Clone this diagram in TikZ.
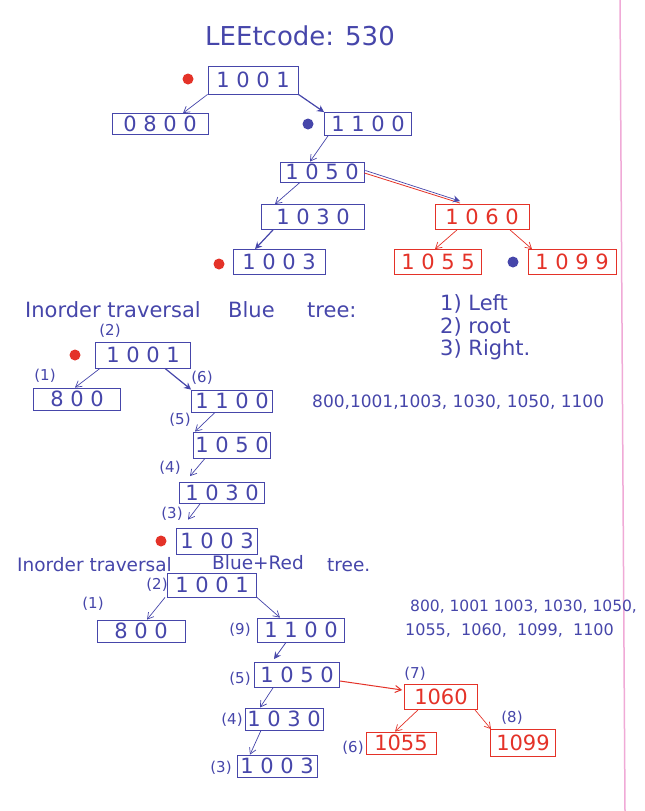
\documentclass[tikz,border=0pt]{standalone}
\usepackage{fontspec}
\setmainfont{DejaVu Sans}
\usetikzlibrary{arrows.meta}
\definecolor{ink}{RGB}{70,70,170}
\definecolor{rink}{RGB}{228,50,40}
\definecolor{pinkline}{RGB}{240,170,215}
\begin{document}
\begin{tikzpicture}[x=1pt,y=-1pt,
 bx/.style 2 args={draw=ink, text=ink, line width=0.8pt, minimum width=#1, minimum height=#2, inner sep=0pt, font=\fontsize{21}{21}\selectfont},
 rbx/.style 2 args={bx={#1}{#2}, draw=rink, text=rink},
 lbl/.style={text=ink, font=\fontsize{15}{15}\selectfont, inner sep=0pt},
 arr/.style={draw=ink, line width=0.7pt, -{Straight Barb[length=6pt,width=7pt]}},
 tarr/.style={arr, line width=1.2pt, -{Stealth[length=7pt,width=7pt]}},
 rarr/.style={arr, draw=rink},
 rdot/.style={circle, fill=rink, inner sep=0pt, minimum size=11pt},
 bdot/.style={circle, fill=ink, inner sep=0pt, minimum size=11pt},
 txt/.style={text=ink, inner sep=0pt, anchor=west}]
\useasboundingbox (0,0) rectangle (645,811);
\fill[white] (0,0) rectangle (645,811);
\draw[pinkline, line width=1.5pt] (620,0) -- (625,811);

% title
\node[txt, anchor=center, font=\fontsize{26}{26}\selectfont] (title) at (300,36) {LEEtcode: 530};

% tree 1
\node[bx={90pt}{28pt}] (t1a) at (253,80) {1 0 0 1};
\node[bx={96pt}{21pt}] (t1b) at (160,124) {0 8 0 0};
\node[bx={87pt}{23pt}] (t1c) at (368,124) {1 1 0 0};
\node[bx={84pt}{20pt}] (t1d) at (322,172) {1 0 5 0};
\node[bx={103pt}{25pt}] (t1e) at (313,217) {1 0 3 0};
\node[rbx={94pt}{25pt}] (t1f) at (482,217) {1 0 6 0};
\node[bx={92pt}{25pt}] (t1g) at (279,262) {1 0 0 3};
\node[rbx={87pt}{25pt}] (t1h) at (438,262) {1 0 5 5};
\node[rbx={88pt}{25pt}] (t1i) at (572,262) {1 0 9 9};
\node[rdot] (d1) at (188,79) {};
\node[bdot] (d2) at (308,124) {};
\node[rdot] (d3) at (219,264) {};
\node[bdot] (d4) at (513,262) {};

\draw[arr] (t1a.south west) -- ([xshift=23pt]t1b.north);
\draw[tarr] (t1a.south east) -- (t1c.north west);
\draw[arr] ([xshift=-40pt]t1c.south) -- ([xshift=-12pt]t1d.north);
\draw[arr] ([xshift=-22pt]t1d.south) -- ([xshift=-38pt]t1e.north);
\draw[rink, line width=0.8pt] ([yshift=-1pt]t1d.east) -- ([xshift=-22pt,yshift=1pt]t1f.north);
\draw[tarr, line width=0.7pt] ([xshift=1pt,yshift=1.5pt]t1d.east) -- ([xshift=-22pt,yshift=3pt]t1f.north);
\draw[tarr] ([xshift=-40pt]t1e.south) -- ([xshift=-24pt]t1g.north);
\draw[rarr] ([xshift=-25pt]t1f.south) -- ([xshift=-3pt]t1h.north);
\draw[rarr] ([xshift=28pt]t1f.south) -- ([xshift=-40pt]t1i.north);

% text block 1
\node[txt, font=\fontsize{21}{21}\selectfont] (h1) at (25,310) {Inorder traversal};
\node[txt, font=\fontsize{21}{21}\selectfont] (h1b) at (228,310) {Blue};
\node[txt, font=\fontsize{21}{21}\selectfont] (h1c) at (307,310) {tree:};
\node[txt, font=\fontsize{21}{21}\selectfont] (s1) at (440,304) {1) Left};
\node[txt, font=\fontsize{21}{21}\selectfont] (s2) at (440,327) {2) root};
\node[txt, font=\fontsize{21}{21}\selectfont] (s3) at (440,350) {3) Right.};
\node[txt, font=\fontsize{17}{17}\selectfont] (r1) at (312,402) {800,1001,1003, 1030, 1050, 1100};

% tree 2
\node[bx={95pt}{26pt}] (t2a) at (143,355) {1 0 0 1};
\node[bx={87pt}{22pt}] (t2b) at (77,399) {8 0 0};
\node[bx={81pt}{22pt}] (t2c) at (232,401) {1 1 0 0};
\node[bx={77pt}{26pt}] (t2d) at (232,445) {1 0 5 0};
\node[bx={85pt}{21pt}] (t2e) at (222,493) {1 0 3 0};
\node[bx={81pt}{26pt}] (t2f) at (217,541) {1 0 0 3};
\node[rdot] (d5) at (75,355) {};
\node[rdot] (d6) at (161,541) {};
\node[lbl] (l2a) at (110,331) {(2)};
\node[lbl] (l2b) at (45,376) {(1)};
\node[lbl] (l2c) at (202,378) {(6)};
\node[lbl] (l2d) at (180,420) {(5)};
\node[lbl] (l2e) at (170,468) {(4)};
\node[lbl] (l2f) at (172,514) {(3)};
\draw[arr] ([xshift=-43pt]t2a.south) -- ([xshift=-2pt]t2b.north);
\draw[tarr] ([xshift=22pt]t2a.south) -- (t2c.north west);
\draw[arr] ([xshift=-17pt]t2c.south) -- ([xshift=-37pt]t2d.north);
\draw[arr] ([xshift=-27pt]t2d.south) -- ([xshift=-32pt,yshift=6pt]t2e.north);
\draw[arr] ([xshift=-22pt]t2e.south) -- ([xshift=-29pt,yshift=8pt]t2f.north);

% text block 2
\node[txt, font=\fontsize{18.5}{18.5}\selectfont] (h2) at (17,565) {Inorder traversal};
\node[txt, font=\fontsize{18.5}{18.5}\selectfont] (h2b) at (212,563) {Blue+Red};
\node[txt, font=\fontsize{18.5}{18.5}\selectfont] (h2c) at (327,565) {tree.};
\node[txt, font=\fontsize{15.5}{15.5}\selectfont] (r2) at (410,607) {800, 1001 1003, 1030, 1050,};
\node[txt, font=\fontsize{16}{16}\selectfont] (r3) at (405,630) {1055,~ 1060,~ 1099,~ 1100};

% tree 3
\node[bx={89pt}{24pt}] (t3a) at (212,585) {1 0 0 1};
\node[bx={88pt}{22pt}] (t3b) at (141,631) {8 0 0};
\node[bx={87pt}{24pt}] (t3c) at (301,630) {1 1 0 0};
\node[bx={85pt}{25pt}] (t3d) at (297,675) {1 0 5 0};
\node[bx={78pt}{22pt}] (t3e) at (284,719) {1 0 3 0};
\node[bx={80pt}{22pt}] (t3f) at (277,766) {1 0 0 3};
\node[rbx={73pt}{25pt}] (t3g) at (441,697) {1060};
\node[rbx={70pt}{22pt}] (t3h) at (401,743) {1055};
\node[rbx={65pt}{27pt}] (t3i) at (523,743) {1099};
\node[lbl] (l3a) at (157,585) {(2)};
\node[lbl] (l3b) at (93,604) {(1)};
\node[lbl] (l3c) at (240,630) {(9)};
\node[lbl] (l3d) at (240,679) {(5)};
\node[lbl] (l3e) at (232,720) {(4)};
\node[lbl] (l3f) at (221,768) {(3)};
\node[lbl] (l3g) at (415,674) {(7)};
\node[lbl] (l3h) at (353,748) {(6)};
\node[lbl] (l3i) at (512,718) {(8)};
\draw[arr] ([xshift=-47pt]t3a.south) -- ([xshift=6pt]t3b.north);
\draw[arr] (t3a.south east) -- ([xshift=-21pt]t3c.north);
\draw[tarr, line width=0.8pt] ([xshift=-15pt]t3c.south) -- ([xshift=-23pt,yshift=3pt]t3d.north);
\draw[arr] ([xshift=-24pt]t3d.south) -- ([xshift=-24pt]t3e.north);
\draw[arr] ([xshift=-23pt]t3e.south) -- ([xshift=-27pt]t3f.north);
\draw[rarr, line width=1pt] ([yshift=-6pt]t3d.east) -- ([xshift=-2pt,yshift=7pt]t3g.west);
\draw[rarr] ([xshift=-23pt]t3g.south) -- ([xshift=-6pt]t3h.north);
\draw[rarr] ([xshift=34pt]t3g.south) -- ([xshift=-32pt]t3i.north);
\end{tikzpicture}
\end{document}
